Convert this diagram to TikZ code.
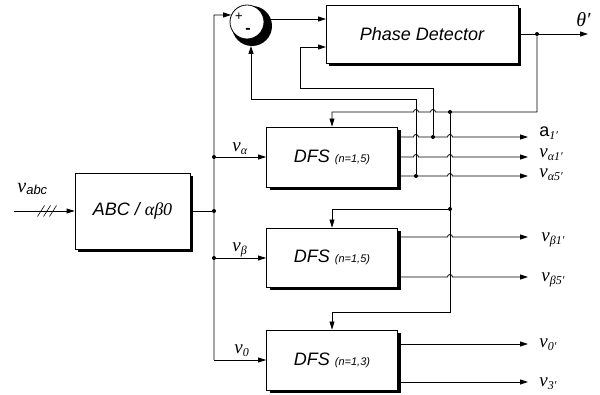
\documentclass[tikz,border=0pt]{standalone}
\usepackage{fontspec}
\setmainfont{Liberation Sans}
\newfontfamily\tms{Liberation Serif}
\usetikzlibrary{arrows.meta,shadows,calc}
\newcommand{\vsym}[1]{{\tms\itshape\fontsize{19}{19}\selectfont v}\raisebox{-2.5pt}{\tms\itshape\fontsize{12}{12}\selectfont #1}}
\begin{document}
\begin{tikzpicture}[x=1pt,y=-1pt,line width=0.8pt,
  blk/.style={draw,fill=white,rectangle,inner sep=0pt,
    drop shadow={shadow xshift=3pt,shadow yshift=-3pt,fill=black,opacity=1}},
  arr/.style={-{Triangle[length=8pt,width=5pt]}},
  dot/.style={circle,fill=black,inner sep=0pt,minimum size=4pt},
  lab/.style={anchor=base west,inner sep=0pt},
  btxt/.style={font=\itshape\fontsize{18}{20}\selectfont}]
\useasboundingbox (0,0) rectangle (600,395);

% blocks
\node[blk,btxt,minimum width=115pt,minimum height=76pt] (abc) at (132.5,211) {ABC / {\tms αβ0}};
\node[blk,btxt,minimum width=192pt,minimum height=58pt] (pd) at (422,34) {Phase Detector};
\node[blk,btxt,minimum width=131pt,minimum height=60pt] (dfsa) at (332,157) {DFS {\fontsize{11}{12}\selectfont (n=1,5)}};
\node[blk,btxt,minimum width=131pt,minimum height=59pt] (dfsb) at (332,257.5) {DFS {\fontsize{11}{12}\selectfont (n=1,5)}};
\node[blk,btxt,minimum width=131pt,minimum height=60pt] (dfsz) at (332,360) {DFS {\fontsize{11}{12}\selectfont (n=1,3)}};

% summing junction
\node[circle,fill=black,minimum size=40pt,inner sep=0pt] (sumsh) at (252,26) {};
\node[circle,draw,fill=white,minimum size=34pt,inner sep=0pt] (sum) at (247,22) {};
\node[inner sep=0pt,font=\fontsize{13}{13}\selectfont] (plus) at (239,17) {+};
\node[inner sep=0pt,font=\bfseries\fontsize{16}{16}\selectfont] (minus) at (248,31) {-};

% coordinates
\coordinate (in) at (14,211);
\coordinate (bt) at (214,15);
\coordinate (sumo) at (271,19);
\coordinate (sumb) at (251,46);
\coordinate (q1) at (251,99);
\coordinate (p1) at (300,88);
\coordinate (pdin1) at (326,19);
\coordinate (pdin2) at (326,47);
\coordinate (oth) at (588,34);
\coordinate (k0) at (450,312);
\coordinate (oa1) at (528,137);
\coordinate (oa2) at (528,157);
\coordinate (oa3) at (528,176);
\coordinate (ob1) at (528,237);
\coordinate (ob2) at (528,277);
\coordinate (oz1) at (528,344);
\coordinate (oz2) at (528,382);

% dots
\node[dot] (da) at (214,157) {};
\node[dot] (dm) at (214,211) {};
\node[dot] (db) at (214,258) {};
\node[dot] (dth) at (537,34) {};
\node[dot] (dfb) at (450,112) {};
\node[dot] (dkb) at (450,209) {};
\node[dot] (d1) at (433,137) {};
\node[dot] (d5) at (416,176) {};

% input
\draw[arr] (in) -- (abc.west);
\foreach \x in {41,47,53} \draw[line width=0.6pt] (\x-3.5,216.5) -- (\x+3.5,205.5);
\draw (abc.east) -- (dm);

% bus
\draw[arr] (bt |- dfsz.west) -- (bt) -- (sum.156);
\draw[arr] (bt |- dfsz.west) -- (dfsz.west);
\draw[arr] (da) -- (dfsa.west);
\draw[arr] (db) -- (db -| dfsb.west);

% sum to PD
\draw[arr] (sumo) -- (pdin1);
\draw[arr] (pd.east) -- (oth);

% theta feedback
\draw[arr] (dth) -- (537,112) -- (435.5,112) arc[start angle=0,end angle=180,radius=2.5pt]
  -- (418.5,112) arc[start angle=0,end angle=180,radius=2.5pt] -- (332,112) -- (dfsa.north);
\draw[arr] (dfb) -- (k0) -| (dfsz.north);
\draw[arr] (dkb) -| (dfsb.north);

% DFS alpha outputs
\draw[arr] (dfsa.east |- oa1) -- (413.5,137) arc[start angle=180,end angle=0,radius=2.5pt]
  -- (447.5,137) arc[start angle=180,end angle=0,radius=2.5pt] -- (oa1);
\draw[arr] (dfsa.east |- oa2) -- (413.5,157) arc[start angle=180,end angle=0,radius=2.5pt]
  -- (447.5,157) arc[start angle=180,end angle=0,radius=2.5pt] -- (oa2);
\draw[arr] (dfsa.east |- oa3) -- (447.5,176) arc[start angle=180,end angle=0,radius=2.5pt] -- (oa3);
\draw[arr] (d1) |- (p1) |- (pdin2);
\draw[arr] (d5) |- (q1) -- (sumb);

% DFS beta outputs
\draw[arr] (dfsb.east |- ob1) -- (447.5,237) arc[start angle=180,end angle=0,radius=2.5pt] -- (ob1);
\draw[arr] (dfsb.east |- ob2) -- (447.5,277) arc[start angle=180,end angle=0,radius=2.5pt] -- (ob2);

% DFS zero outputs
\draw[arr] (dfsz.east |- oz1) -- (oz1);
\draw[arr] (dfsz.east |- oz2) -- (oz2);

% labels
\node[lab] (lvabc) at (17,193) {{\tms\itshape\fontsize{20}{20}\selectfont v}\raisebox{-2pt}{\itshape\fontsize{13}{13}\selectfont abc}};
\node[lab] (lva) at (232,152) {\vsym{α}};
\node[lab] (lvb) at (232,252) {\vsym{β}};
\node[lab] (lvz) at (234,354) {\vsym{0}};
\node[lab] (lth) at (576,27) {\tms\itshape\fontsize{20}{20}\selectfont θ′};
\node[lab] (la1) at (539,137) {{\fontsize{18}{18}\selectfont a}\raisebox{-2.5pt}{\tms\itshape\fontsize{12}{12}\selectfont 1′}};
\node[lab] (lva1) at (539,158) {\vsym{α1′}};
\node[lab] (lva5) at (539,178) {\vsym{α5′}};
\node[lab] (lvb1) at (541,242) {\vsym{β1′}};
\node[lab] (lvb5) at (541,282) {\vsym{β5′}};
\node[lab] (lvz1) at (539,348) {\vsym{0′}};
\node[lab] (lvz3) at (539,387) {\vsym{3′}};
\end{tikzpicture}
\end{document}
